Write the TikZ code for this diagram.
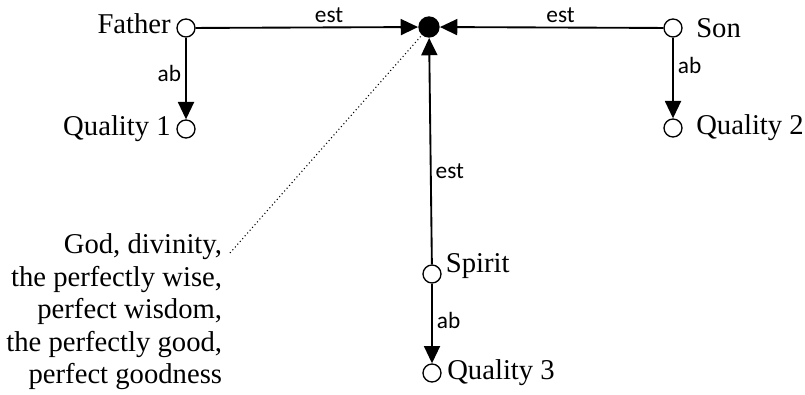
\documentclass[tikz,border=0pt]{standalone}
\usepackage{fontspec}
\setmainfont{Liberation Serif}
\newfontfamily\relfont{Carlito}
\usetikzlibrary{arrows.meta}

\tikzset{
  term/.style={circle,draw,line width=1pt,inner sep=0pt,minimum size=13.5pt,fill=white},
  deity/.style={circle,fill=black,inner sep=0pt,minimum size=16pt},
  person/.style={font=\fontsize{21.5}{24.4}\selectfont,inner sep=2pt},
  rel/.style={line width=1.4pt,-{Triangle[length=13pt,width=12pt]}},
  lbl/.style={font=\relfont\fontsize{17.5}{19}\selectfont,inner sep=3pt}
}

\begin{document}
\begin{tikzpicture}[x=0.75pt,y=-0.75pt]
\useasboundingbox (0,0) rectangle (805,395);
% the persons and their qualities
\node[term] (F) at (186,28) {};
\node[term] (Q1) at (186,129) {};
\node[deity] (G) at (429,27) {};
\node[term] (S) at (673,28) {};
\node[term] (Q2) at (673,128) {};
\node[term] (H) at (432,274) {};
\node[term] (Q3) at (432,373) {};
% names
\node[person,anchor=east] (fatherlbl) at ([xshift=-2pt,yshift=3pt]F.west) {Father};
\node[person,anchor=east] (q1lbl) at ([xshift=-2pt]Q1.west) {Quality 1};
\node[person,anchor=west] (sonlbl) at ([xshift=8pt]S.east) {Son};
\node[person,anchor=west] (q2lbl) at ([xshift=8pt]Q2.east) {Quality 2};
\node[person,anchor=west] (spiritlbl) at ([xshift=1pt,yshift=6pt]H.east) {Spirit};
\node[person,anchor=west] (q3lbl) at ([xshift=2pt]Q3.east) {Quality 3};
\node[person,align=right,anchor=east] (godlbl) at (225,312) {God, divinity,\\the perfectly wise,\\perfect wisdom,\\the perfectly good,\\perfect goodness};
% relations
\draw[rel] (F) -- node[lbl,above,pos=0.6] {est} (G);
\draw[rel] (S) -- node[lbl,above,pos=0.46] {est} (G);
\draw[rel] (H) -- node[lbl,right,pos=0.41] {est} (G);
\draw[rel] (F) -- node[lbl,left,pos=0.44] {ab} (Q1);
\draw[rel] (S) -- node[lbl,right,pos=0.34] {ab} (Q2);
\draw[rel] (H) -- node[lbl,right,pos=0.46] {ab} (Q3);
\coordinate (tail) at (230,253);
\draw[dotted,line width=0.8pt] (tail) -- (G);
\end{tikzpicture}
\end{document}
